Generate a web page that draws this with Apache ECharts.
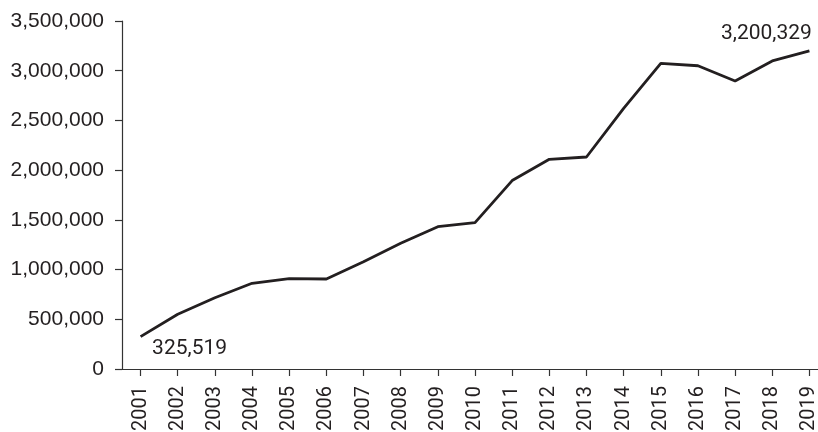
<!DOCTYPE html>
<html>
<head>
<meta charset="utf-8">
<script src="https://cdn.jsdelivr.net/npm/echarts@6/dist/echarts.min.js"></script>
<style>
html,body{margin:0;padding:0;background:#fff;}
#chart{width:818px;height:432px;}
</style>
</head>
<body>
<div id="chart"></div>
<script>
const years = ['2001','2002','2003','2004','2005','2006','2007','2008','2009','2010','2011','2012','2013','2014','2015','2016','2017','2018','2019'];
const values = [325519, 550000, 717000, 862000, 908000, 905000, 1079000, 1264000, 1431000, 1472000, 1895000, 2109000, 2132000, 2622000, 3074000, 3050000, 2896000, 3098000, 3200329];
const yTicks = [0, 500000, 1000000, 1500000, 2000000, 2500000, 3000000, 3500000];

const fmt = v => Number(v).toLocaleString('en-US');
const lineColor = '#231f20';
const axisColor = '#333';

const seriesData = values.map((v, i) => {
  const item = { value: v };
  if (i === 0) {
    item.label = { show: true, position: 'inside', offset: [49, 12] };
  } else if (i === values.length - 1) {
    item.label = { show: true, position: 'inside', offset: [-43, -17] };
  }
  return item;
});

const chart = echarts.init(document.getElementById('chart'), null, { renderer: 'canvas' });
chart.setOption({
  animation: false,
  backgroundColor: '#fff',
  grid: { left: 122, right: -10, top: 21, bottom: 63, containLabel: false, outerBoundsMode: 'none' },
  xAxis: {
    type: 'category',
    data: years,
    boundaryGap: true,
    axisLine: { show: true, lineStyle: { color: axisColor, width: 1.2 } },
    axisTick: { show: true, alignWithLabel: true, length: 7, lineStyle: { color: axisColor, width: 1.2 } },
    axisLabel: { rotate: 90, margin: 17, color: '#231f20', fontFamily: 'Roboto', fontSize: 20, interval: 0 },
    splitLine: { show: false }
  },
  yAxis: {
    type: 'value',
    min: yTicks[0],
    max: yTicks[yTicks.length - 1],
    interval: 500000,
    axisLine: { show: true, lineStyle: { color: axisColor, width: 1.2 } },
    axisTick: { show: true, length: 7, lineStyle: { color: axisColor, width: 1.2 } },
    axisLabel: { margin: 18, color: '#231f20', fontFamily: 'Liberation Sans', fontSize: 21, formatter: fmt },
    splitLine: { show: false }
  },
  series: [{
    type: 'line',
    data: seriesData,
    symbol: 'circle',
    symbolSize: 1,
    showSymbol: true,
    itemStyle: { color: 'rgba(0,0,0,0)' },
    lineStyle: { color: lineColor, width: 2.8 },
    label: {
      show: false,
      color: '#231f20',
      fontFamily: 'Roboto',
      fontSize: 21,
      formatter: p => fmt(p.value)
    },
    emphasis: { disabled: true }
  }]
});
</script>
</body>
</html>
